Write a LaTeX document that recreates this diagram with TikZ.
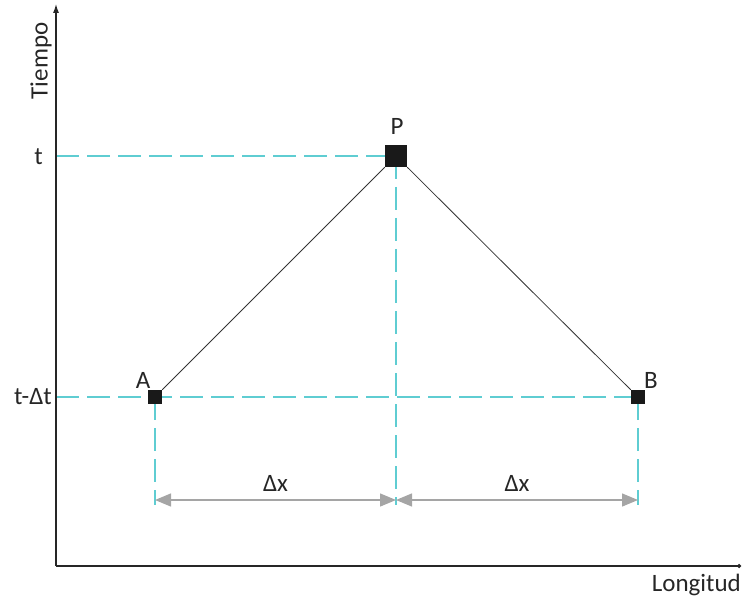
\documentclass[tikz,border=0pt]{standalone}
\usepackage{fontspec}
\setmainfont{Carlito}
\usetikzlibrary{arrows.meta}
\definecolor{dashcyan}{RGB}{95,205,210}
\definecolor{dimgrey}{RGB}{165,165,165}
\begin{document}
\begin{tikzpicture}[x=1pt,y=-1pt,
  axis/.style={draw=black!85,line width=1.2pt},
  guide/.style={draw=dashcyan,line width=1.6pt,dash pattern=on 23pt off 8pt},
  link/.style={draw=black!80,line width=0.8pt},
  dimline/.style={draw=dimgrey,line width=1.4pt,{Triangle[length=16pt,width=13pt]}-{Triangle[length=16pt,width=13pt]}},
  pt/.style={fill=black!90,inner sep=0pt,minimum size=#1},
  lbl/.style={font=\fontsize{25}{27}\selectfont,text=black!85,inner sep=0pt}]
\useasboundingbox (0,0) rectangle (743,601);
% points
\coordinate (O) at (56,566);
\coordinate (Ytop) at (56,4);
\coordinate (Xend) at (741,566);
\node[pt=22pt] (P) at (396,156) {};
\node[pt=14pt] (A) at (155,397) {};
\node[pt=14pt] (B) at (638,397) {};
\coordinate (tL) at (56,156);
\coordinate (dtL) at (56,397);
\coordinate (Pd) at (396,505);
\coordinate (Ad) at (155,505);
\coordinate (Bd) at (638,505);
\coordinate (Pa) at (396,500);
\coordinate (Aa) at (155,500);
\coordinate (Ba) at (638,500);
% guides
\draw[guide] (tL) -- (P.center);
\draw[guide] (dtL) -- (B.center);
\draw[guide] (P.center) -- (Pd);
\draw[guide] (A.center) -- (Ad);
\draw[guide] (B.center) -- (Bd);
% axes
\draw[axis,-{Latex[length=9pt,width=6pt]}] (O) -- (Ytop);
\draw[axis,-{Circle[length=4pt]}] (O) -- (Xend);
% links
\draw[link] (A) -- (P);
\draw[link] (P) -- (B);
\node[pt=22pt] at (P) {};
\node[pt=14pt] at (A) {};
\node[pt=14pt] at (B) {};
% dimensions
\draw[dimline] (Aa) -- node[lbl,above=8pt] (dx1) {Δx} (Pa);
\draw[dimline] (Pa) -- node[lbl,above=8pt] (dx2) {Δx} (Ba);
% labels
\node[lbl] (lP) at (397,126) {P};
\node[lbl] (lA) at (143,380) {A};
\node[lbl] (lB) at (651,380) {B};
\node[lbl,anchor=east] (lt) at (43,157) {t};
\node[lbl,anchor=east] (ldt) at (52,397) {t-Δt};
\node[lbl,rotate=90] (ly) at (41,61) {Tiempo};
\node[lbl,anchor=east] (lx) at (741,585) {Longitud};
\end{tikzpicture}
\end{document}
